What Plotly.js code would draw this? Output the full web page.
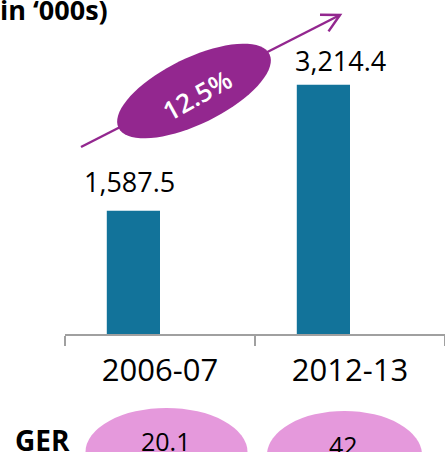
<!DOCTYPE html>
<html>
<head>
<meta charset="utf-8">
<script src="https://cdn.plot.ly/plotly-3.0.1.min.js"></script>
<style>html,body{margin:0;padding:0;background:#fff;}#chart{width:445px;height:452px;}</style>
</head>
<body>
<div id="chart"></div>
<script>
// ---- data ----
const years = ['2006-07', '2012-13'];
const enrolment = [1587.5, 3214.4];      // in '000s
const gerValues = [20.1, 42];
const cagrLabel = '12.5%';
const unitLabel = 'in \u2018000s)';
const gerLabel = 'GER';

// ---- layout constants ----
const W = 445, H = 452;
const M = {l: 65, r: 0, t: 40, b: 118};
const PW = W - M.l - M.r, PH = H - M.t - M.b;
const px = x => (x - M.l) / PW;
const py = y => (H - M.b - y) / PH;
const FONT = 'Open Sans, Noto Sans, sans-serif';
const BAR = '#12739a', PURPLE = '#93278f', PINK = '#e599dc';

const fmt = v => v.toLocaleString('en-US', {minimumFractionDigits: 1, maximumFractionDigits: 1});

const trace = {
  type: 'bar', x: years, y: enrolment,
  width: 0.28, offset: -0.28,
  marker: {color: BAR, line: {width: 0}},
  hoverinfo: 'skip'
};

const annotations = [];
const shapes = [];

// value labels
const labelShift = [-31, -10];
years.forEach((c, i) => {
  annotations.push({
    xref: 'x', yref: 'y', x: c, y: enrolment[i], xanchor: 'center', yanchor: 'bottom',
    xshift: labelShift[i], yshift: i ? 4 : 9, showarrow: false, text: fmt(enrolment[i]),
    font: {family: FONT, size: 27, color: '#000'}
  });
});

// unit title
annotations.push({
  xref: 'paper', yref: 'paper', x: px(-2), y: py(-11), xanchor: 'left', yanchor: 'top',
  showarrow: false, text: '<b>' + unitLabel + '</b>',
  font: {family: FONT, size: 27, color: '#000'}
});

// growth arrow
const ax0 = 81, ay0 = 147, ax1 = 340, ay1 = 15;
shapes.push({type: 'path', xref: 'paper', yref: 'paper', layer: 'above',
  path: `M${px(ax0)},${py(ay0)} L${px(ax1)},${py(ay1)}`,
  line: {color: PURPLE, width: 2.5}});
const back = Math.atan2(ay0 - ay1, ax0 - ax1);
const arm = 20, spread = 28 * Math.PI / 180;
const a1 = [ax1 + arm * Math.cos(back + spread), ay1 + arm * Math.sin(back + spread)];
const a2 = [ax1 + arm * Math.cos(back - spread), ay1 + arm * Math.sin(back - spread)];
shapes.push({type: 'path', xref: 'paper', yref: 'paper', layer: 'above',
  path: `M${px(a1[0])},${py(a1[1])} L${px(ax1)},${py(ay1)} L${px(a2[0])},${py(a2[1])}`,
  line: {color: PURPLE, width: 2.5}});

// rotated ellipse
const ecx = 194, ecy = 91, ea = 84, eb = 33, eth = -26 * Math.PI / 180;
let ep = '';
for (let k = 0; k <= 72; k++) {
  const t = k / 72 * 2 * Math.PI;
  const x = ecx + ea * Math.cos(t) * Math.cos(eth) - eb * Math.sin(t) * Math.sin(eth);
  const y = ecy + ea * Math.cos(t) * Math.sin(eth) + eb * Math.sin(t) * Math.cos(eth);
  ep += (k ? ' L' : 'M') + px(x) + ',' + py(y);
}
shapes.push({type: 'path', xref: 'paper', yref: 'paper', layer: 'above', path: ep + ' Z',
  fillcolor: PURPLE, line: {width: 0}});
annotations.push({
  xref: 'paper', yref: 'paper', x: px(197), y: py(95), xanchor: 'center', yanchor: 'middle',
  showarrow: false, text: cagrLabel, textangle: -29,
  font: {family: FONT, size: 26, color: '#fff', weight: 600}
});

// GER row
const gerCx = [166.5, 344.5], gerRx = [81, 77.5], gerCy = [452, 455], gerRy = 44;
const gerTop = [422, 426];
gerValues.forEach((v, i) => {
  shapes.push({type: 'circle', xref: 'paper', yref: 'paper', layer: 'above',
    x0: px(gerCx[i] - gerRx[i]), x1: px(gerCx[i] + gerRx[i]),
    y0: py(gerCy[i] - gerRy), y1: py(gerCy[i] + gerRy),
    fillcolor: PINK, line: {width: 0}});
  annotations.push({
    xref: 'paper', yref: 'paper', x: px(gerCx[i] - 1), y: py(gerTop[i]), xanchor: 'center', yanchor: 'top',
    showarrow: false, text: String(v),
    font: {family: FONT, size: 25, color: '#000'}
  });
});
annotations.push({
  xref: 'paper', yref: 'paper', x: px(13), y: py(419), xanchor: 'left', yanchor: 'top',
  showarrow: false, text: '<b>' + gerLabel + '</b>',
  font: {family: FONT, size: 28, color: '#000'}
});

const layout = {
  width: W, height: H,
  margin: M,
  paper_bgcolor: '#fff', plot_bgcolor: '#fff',
  showlegend: false,
  font: {family: FONT, color: '#000'},
  xaxis: {
    type: 'category', range: [-0.5, 1.5], fixedrange: true,
    tickson: 'boundaries', ticks: 'outside', ticklen: 10, tickwidth: 1.5, tickcolor: '#a0a0a0',
    showline: true, linecolor: '#a0a0a0', linewidth: 1.5, showgrid: false, zeroline: false,
    ticklabelstandoff: 8,
    tickfont: {family: FONT, size: 31, color: '#000'}
  },
  yaxis: {range: [0, 3790], visible: false, fixedrange: true, showgrid: false, zeroline: false},
  shapes: shapes,
  annotations: annotations
};

Plotly.newPlot('chart', [trace], layout, {staticPlot: true, displayModeBar: false});
</script>
</body>
</html>
